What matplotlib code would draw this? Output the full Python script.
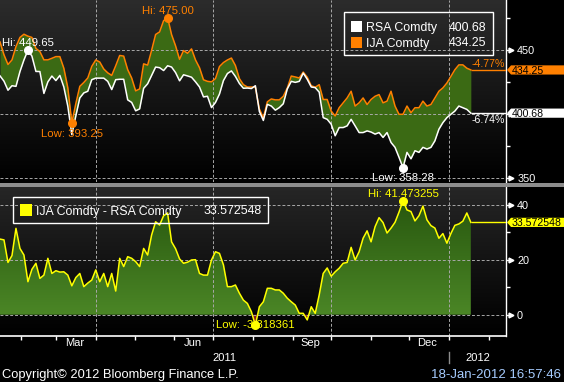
import numpy as np
import pandas as pd
import matplotlib
matplotlib.use('Agg')
import matplotlib.pyplot as plt
import matplotlib.dates as mdates
import matplotlib.transforms as mtransforms
from matplotlib.patches import Rectangle, Polygon
from matplotlib.colors import LinearSegmentedColormap
from matplotlib.path import Path

plt.rcParams['font.family'] = ['Liberation Sans', 'DejaVu Sans']

# --- data ---
dates = pd.date_range('2011-01-16', '2012-01-18', periods=119)

rsa = np.array([
    429.64, 425.5, 418.5, 422, 421.5, 433, 442, 449.65, 445, 433.1,
    433, 416, 425, 429.5, 426, 430, 421, 406, 384, 398.5,
    412.5, 416.4, 417.7, 426.7, 427.9, 427.9, 427.9, 425.4, 419, 426.7,
    427, 427, 411, 409, 402.5, 404, 420, 423.5, 430, 436.5,
    436, 433.8, 437.5, 436.5, 432.2, 425.8, 430.5, 429.6, 428.6, 425,
    421, 413.3, 413.8, 405, 409, 415.5, 426, 431.5, 433.5, 429.2,
    423.7, 420, 420.2, 419.8, 422, 402, 395, 407.5, 406.2, 403,
    405, 408, 419.5, 425.4, 424.6, 425.4, 431.8, 427, 421, 420.5,
    417, 397.2, 395.9, 392.1, 383.1, 389.5, 389.5, 390.8, 395.9, 390.8,
    385.6, 385.6, 386.9, 386, 384.4, 385.6, 381.8, 385.6, 377.9, 374.1,
    366.4, 358.28, 370.2, 365.2, 371.5, 370.2, 374.1, 372.8, 374.1, 379.2,
    388.2, 393.3, 397.2, 399.8, 402.3, 406.2, 404.9, 403.6, 400.68])

ija = np.array([
    456.0, 446, 438.5, 442, 452.3, 459.5, 462, 460.5, 459.5, 451,
    448.5, 442.1, 442.1, 443.3, 444.6, 444.6, 435.6, 420.3, 393.25, 408,
    421.5, 424.5, 428, 437, 442, 440.4, 435, 432, 430, 437.5,
    445.5, 445, 434.5, 428, 418, 419.5, 439, 438, 449.5, 461.8,
    463.8, 472.5, 475.0, 461.7, 453, 442.5, 449.3, 447.2, 450.6, 442,
    436, 426.6, 425.4, 425, 427.5, 436.9, 440, 442, 443.5, 437.7,
    427.5, 422.8, 421, 421, 420.7, 404, 397, 409.5, 411.7, 411,
    411, 413.8, 420.2, 429.5, 428.8, 428, 432.6, 428.6, 422, 420.8,
    422.8, 411.3, 411.3, 402.3, 398.5, 404.9, 408.7, 412.5, 417.7, 406.2,
    408.7, 412.5, 407.4, 411.3, 413.8, 415.1, 408.7, 410, 417.7, 406.2,
    399.8, 399.8, 406.2, 401, 404.9, 404.9, 410, 406.2, 407.4, 412.5,
    417.7, 420.3, 424.1, 429.2, 434.4, 438.2, 438.2, 435.6, 434.25])

spread = np.array([
    27.5, 27.2, 19, 21.5, 31.4, 24.1, 21.7, 12, 16.5, 18.7,
    13.2, 14.4, 20.5, 15, 16, 15.5, 15.6, 14.4, 10.5, 13.5,
    15, 10.2, 11.5, 12.6, 16.3, 12, 15, 10.2, 15, 8.6,
    20.5, 17.5, 21.1, 20.5, 19.3, 17.5, 24.1, 21.7, 29, 33.8,
    32.6, 36, 37, 26.5, 24, 20.3, 18.7, 19.1, 19.9, 20,
    15, 14.4, 14.4, 19.9, 22.9, 22.3, 18.1, 10.2, 10.2, 10.8,
    7.8, 5.3, 4.1, 1.1, -3.818361, 2.9, 4.7, 9.6, 9.6, 9,
    9, 7.8, 6, 4.7, 3.5, 0.5, 0.5, -1.9, 2.9, 0.5,
    7.2, 15, 17, 14, 15.6, 16.9, 18.7, 19, 24.5, 19.9,
    22.9, 27.8, 30.5, 26.5, 32, 35.3, 33.5, 29.7, 31.5, 33.6,
    37.3, 41.473255, 38.1, 37.5, 34.1, 36, 39.5, 34.5, 32.4, 31.5,
    27.8, 29.5, 26, 29.5, 32.5, 33, 34, 37, 33.572548])

rsa_name, ija_name = 'RSA Comdty', 'IJA Comdty'
spread_name = 'IJA Comdty - RSA Comdty'
top_major, top_minor = [450, 400, 350], [475, 425, 375]
top_labels = ['450', '', '350']          # 400 sits under the RSA value tag
bot_major, bot_minor = [40, 20, 0], [30, 10]
bot_labels = ['40', '20', '0']
quarter_lines = pd.to_datetime(['2011-04-01', '2011-07-01', '2011-10-01', '2012-01-01'])
month_labels = pd.to_datetime(['2011-03-15', '2011-06-15', '2011-09-15', '2011-12-15'])

ORANGE = '#ff8000'
YELLOW = '#ffff00'
GRID = '#a8a8a8'

xd = mdates.date2num(dates)
xmin = mdates.date2num(pd.Timestamp('2011-01-16'))
xmax = mdates.date2num(pd.Timestamp('2012-02-14 10:00'))

W, H = 564, 382
fig = plt.figure(figsize=(W / 100, H / 100), dpi=100, facecolor='black')


def box(x0, y0, x1, y1):
    # pixel box (top-left origin) -> figure fraction rect
    return [x0 / W, 1 - y1 / H, (x1 - x0) / W, (y1 - y0) / H]


ax1 = fig.add_axes(box(0, 0, 506, 182.5))
ax2 = fig.add_axes(box(0, 187, 506, 336))


def background(ax, top):
    cmap = LinearSegmentedColormap.from_list('bg', ['#000000', top])
    ax.imshow(np.linspace(0, 1, 256).reshape(-1, 1), extent=[0, 1, 0, 1],
              transform=ax.transAxes, origin='lower', aspect='auto',
              cmap=cmap, zorder=0)


background(ax1, '#2c2c2c')
background(ax2, '#262626')

# --- top panel ---
ax1.fill_between(xd, rsa, ija, color='#3b6a14', lw=0, zorder=1)
ax1.plot(xd, ija, color=ORANGE, lw=1.1, zorder=3)
ax1.plot(xd, rsa, color='white', lw=1.1, zorder=3.1)
ax1.set_xlim(xmin, xmax)
ax1.set_ylim(346.8, 488.6)

# --- bottom panel ---
pos = ax2.fill_between(xd, spread, 0, where=spread >= 0, interpolate=True,
                       facecolor='none', edgecolor='none')
gcmap = LinearSegmentedColormap.from_list('g', ['#4b8626', '#24520c'])
im = ax2.imshow(np.linspace(0, 1, 256).reshape(-1, 1),
                extent=[xmin, xmax, 0, 46.5], origin='lower', aspect='auto',
                cmap=gcmap, zorder=1)
im.set_clip_path(Path.make_compound_path(*pos.get_paths()), ax2.transData)
ax2.fill_between(xd, spread, 0, where=spread < 0, interpolate=True,
                 color='#8a1c1c', lw=0, zorder=1)
ax2.plot(xd, spread, color=YELLOW, lw=1.1, zorder=3)
ax2.set_xlim(xmin, xmax)
ax2.set_ylim(-7.75, 46.44)

for ax, hl in ((ax1, top_major), (ax2, bot_major)):
    for v in hl:
        ax.axhline(v, color=GRID, lw=0.7, ls=(0, (3, 2)), zorder=2)
    for d in quarter_lines:
        ax.axvline(mdates.date2num(d), color=GRID, lw=0.7, ls=(0, (3, 2)), zorder=2)
    for s in ('left', 'top', 'bottom'):
        ax.spines[s].set_visible(False)
    ax.spines['right'].set_color('white')
    ax.spines['right'].set_linewidth(1)
    ax.set_facecolor('black')

# right hand y axis
for ax, mj, mn, lbl in ((ax1, top_major, top_minor, top_labels),
                        (ax2, bot_major, bot_minor, bot_labels)):
    ax.yaxis.set_ticks_position('right')
    ax.set_yticks(mj)
    ax.set_yticklabels(lbl)
    ax.set_yticks(mn, minor=True)
    ax.tick_params(axis='y', which='major', length=3, width=1, color='white',
                   pad=5, labelsize=7.8, labelcolor='white')
    ax.tick_params(axis='y', which='minor', length=3, width=1, color='white')
    blend = mtransforms.blended_transform_factory(ax.transAxes, ax.transData)
    ax.plot(np.full(len(mj), 1 + 5 / 506), mj, ls='none', marker='>', ms=3.5,
            color='white', transform=blend, clip_on=False)

ax1.tick_params(axis='x', which='both', length=0, labelbottom=False)

# bottom x axis
ax2.spines['bottom'].set_visible(True)
ax2.spines['bottom'].set_color('white')
ax2.spines['bottom'].set_linewidth(1.2)
ax2.xaxis.set_minor_locator(mdates.MonthLocator())
ax2.set_xticks(mdates.date2num(month_labels))
ax2.set_xticklabels([d.strftime('%b') for d in month_labels])
ax2.tick_params(axis='x', which='major', length=0, pad=1.5, labelsize=8,
                labelcolor='white')
ax2.tick_params(axis='x', which='minor', length=3, width=1, color='white')

jan1 = mdates.date2num(pd.Timestamp('2012-01-01'))
xblend = mtransforms.blended_transform_factory(ax2.transData, ax2.transAxes)
ax2.text((xmin + jan1) / 2, -20.7 / 149, '2011', transform=xblend, ha='center',
         va='center_baseline', color='white', fontsize=8)
ax2.text((jan1 + xmax) / 2, -20.7 / 149, '2012', transform=xblend, ha='center',
         va='center_baseline', color='white', fontsize=8)
ax2.plot([jan1, jan1], [-16 / 149, -27 / 149], color='#8c8c8c', lw=1,
         transform=xblend, clip_on=False)


# hi / low markers
def mark(ax, i, vals, text, color, dy):
    ax.plot(xd[i], vals[i], 'o', ms=5.5, color=color, zorder=6, clip_on=False)
    ax.annotate(text, (xd[i], vals[i]), xytext=(0, dy), textcoords='offset points',
                ha='center', va='baseline', color=color, fontsize=8.2, zorder=7)


mark(ax1, rsa.argmax(), rsa, f'Hi: {rsa.max():.2f}', 'white', 2.7)
mark(ax1, ija.argmax(), ija, f'Hi: {ija.max():.2f}', ORANGE, 2.7)
mark(ax1, ija.argmin(), ija, f'Low: {ija.min():.2f}', ORANGE, -10.1)
mark(ax1, rsa.argmin(), rsa, f'Low: {rsa.min():.2f}', 'white', -9.4)
mark(ax2, spread.argmax(), spread, f'Hi: {spread.max():.6f}', YELLOW, 2.8)
mark(ax2, spread.argmin(), spread, f'Low: {spread.min():.6f}', YELLOW, -2.2)

# last value lines, % change labels
ax1.hlines(ija[-1], xd[-1], xmax, color=ORANGE, lw=1, zorder=3)
ax1.hlines(rsa[-1], xd[-1], xmax, color='white', lw=1, zorder=3)
ax2.hlines(spread[-1], xd[-1], xmax, color=YELLOW, lw=1, zorder=3)
for vals, color, dy in ((ija, ORANGE, 1.9), (rsa, 'white', -6.8)):
    pct = (vals[-1] / vals[0] - 1) * 100
    ax1.annotate(f'{pct:.2f}%', (1, vals[-1]), xycoords=('axes fraction', 'data'),
                 xytext=(-0.7, dy), textcoords='offset points', ha='right',
                 va='baseline', color=color, fontsize=7.6)


# value tags on the right hand axis
def tag(ax, value, text, color):
    y = ax.transData.transform((xd[-1], value))[1]
    x0 = ax.transAxes.transform((1, 0))[0]
    h = 4.6
    pts = [(x0 + 1, y), (x0 + 5, y + h), (W, y + h), (W, y - h), (x0 + 5, y - h)]
    fig.patches.append(Polygon([(px / W, py / H) for px, py in pts], closed=True,
                               transform=fig.transFigure, facecolor=color,
                               edgecolor='none', zorder=5))
    fig.text((x0 + 5.5) / W, y / H, text, color='black', fontsize=7.6,
             va='center_baseline', ha='left', zorder=6)


tag(ax1, ija[-1], f'{ija[-1]:.2f}', ORANGE)
tag(ax1, rsa[-1], f'{rsa[-1]:.2f}', 'white')
tag(ax2, spread[-1], f'{spread[-1]:.6f}', YELLOW)

# legends
fig.patches.append(Rectangle(box(344.3, 12.3, 492.7, 55)[:2], 148.4 / W, 42.7 / H,
                             transform=fig.transFigure, fill=False,
                             edgecolor='white', lw=1, zorder=4))
for row_y, color, name, vals in ((26.5, 'white', rsa_name, rsa),
                                  (42, ORANGE, ija_name, ija)):
    r = box(351, row_y - 5.5, 362, row_y + 5.5)
    fig.patches.append(Rectangle(r[:2], r[2], r[3], transform=fig.transFigure,
                                 facecolor=color, edgecolor='none', zorder=4))
    fig.text(366 / W, 1 - row_y / H, name, color='white', fontsize=8.9,
             va='center_baseline', ha='left')
    fig.text(486 / W, 1 - row_y / H, f'{vals[-1]:.2f}', color='white',
             fontsize=8.9, va='center_baseline', ha='right')

r = box(13.3, 196.7, 267.7, 223.3)
fig.patches.append(Rectangle(r[:2], r[2], r[3], transform=fig.transFigure,
                             fill=False, edgecolor='white', lw=1, zorder=4))
r = box(20, 204.3, 31.5, 215.7)
fig.patches.append(Rectangle(r[:2], r[2], r[3], transform=fig.transFigure,
                             facecolor=YELLOW, edgecolor='none', zorder=4))
fig.text(36 / W, 1 - 210 / H, spread_name, color='white', fontsize=8.9,
         va='center_baseline', ha='left')
fig.text(261.7 / W, 1 - 210 / H, f'{spread[-1]:.6f}', color='white',
         fontsize=8.9, va='center_baseline', ha='right')

# separator bar between panels
r = box(0, 183, 564, 186.7)
fig.patches.append(Rectangle(r[:2], r[2], r[3], transform=fig.transFigure,
                             facecolor='#8c8c8c', edgecolor='none', zorder=4))

# footer
fig.text(2 / W, 1 - 373.3 / H, 'Copyright\u00a9 2012 Bloomberg Finance L.P.',
         color='white', fontsize=9.3, va='center_baseline', ha='left')
fig.text(561 / W, 1 - 373.3 / H, '18-Jan-2012 16:57:46', color='#a6ccff',
         fontsize=9.5, va='center_baseline', ha='right')

fig.savefig('out.png', dpi=100, facecolor='black')
